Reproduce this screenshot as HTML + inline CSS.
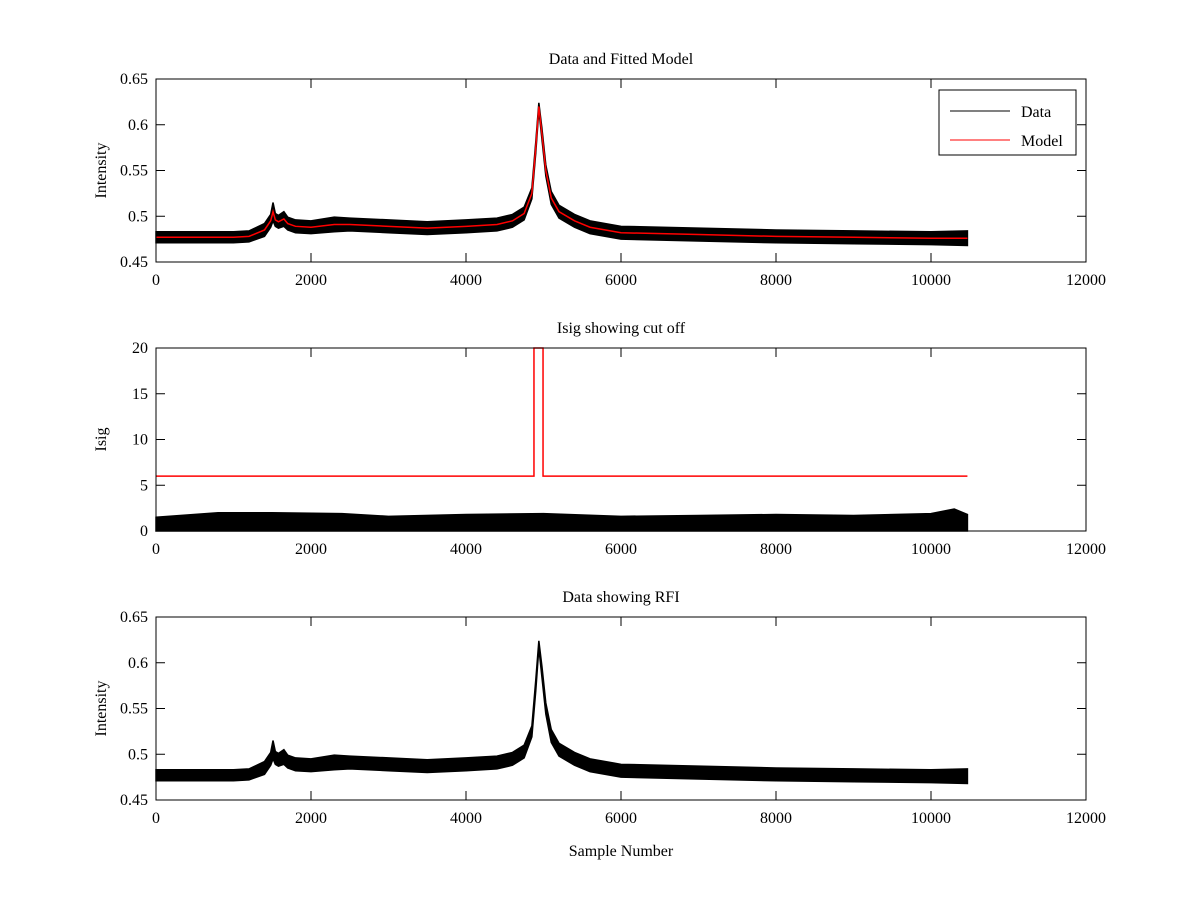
<!DOCTYPE html>
<html><head><meta charset="utf-8"><style>
body{margin:0;background:#fff}
svg text{font-family:"Liberation Serif",serif;font-size:16px;fill:#000}
</style></head><body>
<svg id="c" width="1200" height="900"></svg>
<script>
const sampleX=[0,500,1000,1200,1400,1480,1510,1540,1580,1650,1700,1800,2000,2300,2500,3000,3500,4000,4400,4600,4750,4850,4900,4940,4980,5030,5100,5200,5400,5600,6000,7000,8000,9000,10000,10470];
const modelY=[0.477,0.477,0.477,0.478,0.485,0.495,0.505,0.496,0.494,0.497,0.492,0.489,0.488,0.491,0.491,0.489,0.487,0.489,0.491,0.495,0.503,0.525,0.575,0.62,0.59,0.55,0.52,0.505,0.495,0.488,0.482,0.48,0.478,0.477,0.476,0.476];
const noiseAmp=[0.006,0.006,0.006,0.006,0.007,0.007,0.01,0.007,0.007,0.008,0.007,0.007,0.007,0.008,0.007,0.007,0.007,0.007,0.007,0.007,0.007,0.006,0.006,0.004,0.006,0.006,0.007,0.007,0.007,0.007,0.007,0.007,0.007,0.007,0.007,0.008];
const isigX=[0,800,1500,2400,3000,4000,5000,6000,7000,8000,9000,10000,10300,10470];
const isigHi=[1.5,2.0,2.0,1.9,1.6,1.8,1.9,1.6,1.7,1.8,1.7,1.9,2.4,1.8];
const cutX=[0,4877,4877,4994,4994,10470];
const cutY=[6,6,20,20,6,6];
const xTicks=[0,2000,4000,6000,8000,10000,12000];
const intTicks=[0.45,0.5,0.55,0.6,0.65];
const isigTicks=[0,5,10,15,20];
const NS="http://www.w3.org/2000/svg",svg=document.getElementById('c');
function el(t,a,p){const e=document.createElementNS(NS,t);for(const k in a)e.setAttribute(k,a[k]);(p||svg).appendChild(e);return e;}
const L=156,R=1086;
function sx(v){return L+(v/12000)*(R-L);}
function panel(name,top,bot,ymin,ymax,yt,fmt,title,ylab,xlab){
 const g=el('g',{});
 
 
 const sy=v=>bot-(v-ymin)/(ymax-ymin)*(bot-top);
 el('rect',{x:L,y:top,width:R-L,height:bot-top,fill:'#fff',stroke:'none'},g);
 const tt=el('text',{x:(L+R)/2,y:top-15,'text-anchor':'middle'},g);tt.textContent=title;
 
 xTicks.forEach(v=>{const x=sx(v);
  el('line',{x1:x,x2:x,y1:bot,y2:bot-9,stroke:'#000'},g);el('line',{x1:x,x2:x,y1:top,y2:top+9,stroke:'#000'},g);
  const t=el('text',{x:x,y:bot+23,'text-anchor':'middle'},g);t.textContent=v;
  });
 yt.forEach(v=>{const y=sy(v);
  el('line',{x1:L,x2:L+9,y1:y,y2:y,stroke:'#000'},g);el('line',{x1:R,x2:R-9,y1:y,y2:y,stroke:'#000'},g);
  const t=el('text',{x:L-8,y:y+5,'text-anchor':'end'},g);t.textContent=fmt(v);
  });
 const yl=el('text',{x:0,y:0,'text-anchor':'middle',transform:`translate(${L-50},${(top+bot)/2}) rotate(-90)`},g);yl.textContent=ylab;
 
 if(xlab){const xl=el('text',{x:(L+R)/2,y:bot+56,'text-anchor':'middle'},g);xl.textContent=xlab;
  }
 return {g,sy,top,bot};
}
function band(p,xs,lo,hi,name){
 let d='M'+xs.map((x,i)=>sx(x)+','+p.sy(hi[i])).join('L');
 for(let i=xs.length-1;i>=0;i--)d+='L'+sx(xs[i])+','+p.sy(lo[i]);
 const e=el('path',{d:d+'Z',fill:'#000',stroke:'#000','stroke-width':1.5},p.g);
 
}
function line(p,xs,ys,col,name){
 const e=el('path',{d:'M'+xs.map((x,i)=>sx(x)+','+p.sy(ys[i])).join('L'),fill:'none',stroke:col,'stroke-width':1.5},p.g);
 
}
function frame(p){el('rect',{x:L,y:p.top,width:R-L,height:p.bot-p.top,fill:'none',stroke:'#000'},p.g);}
const lo=modelY.map((v,i)=>v-noiseAmp[i]),hi=modelY.map((v,i)=>v+noiseAmp[i]);
const f2=v=>String(+v.toFixed(2));
const p1=panel('data-model-panel',79,262,0.45,0.65,intTicks,f2,'Data and Fitted Model','Intensity');
band(p1,sampleX,lo,hi,'data-series');line(p1,sampleX,modelY,'#f00','model-series');frame(p1);
const lg=el('g',{},p1.g);


el('rect',{x:939,y:90,width:137,height:65,fill:'#fff',stroke:'#000'},lg);
el('line',{x1:950,x2:1010,y1:111,y2:111,stroke:'#000'},lg);
el('line',{x1:950,x2:1010,y1:140,y2:140,stroke:'#f00'},lg);
let t=el('text',{x:1021,y:117},lg);t.textContent='Data';
t=el('text',{x:1021,y:146},lg);t.textContent='Model';
const p2=panel('isig-panel',348,531,0,20,isigTicks,v=>v,'Isig showing cut off','Isig');
band(p2,isigX,isigX.map(()=>0),isigHi,'isig-series');line(p2,cutX,cutY,'#f00','cutoff-line');frame(p2);
const p3=panel('rfi-panel',617,800,0.45,0.65,intTicks,f2,'Data showing RFI','Intensity','Sample Number');
band(p3,sampleX,lo,hi,'rfi-data-series');frame(p3);
</script>
</body></html>
